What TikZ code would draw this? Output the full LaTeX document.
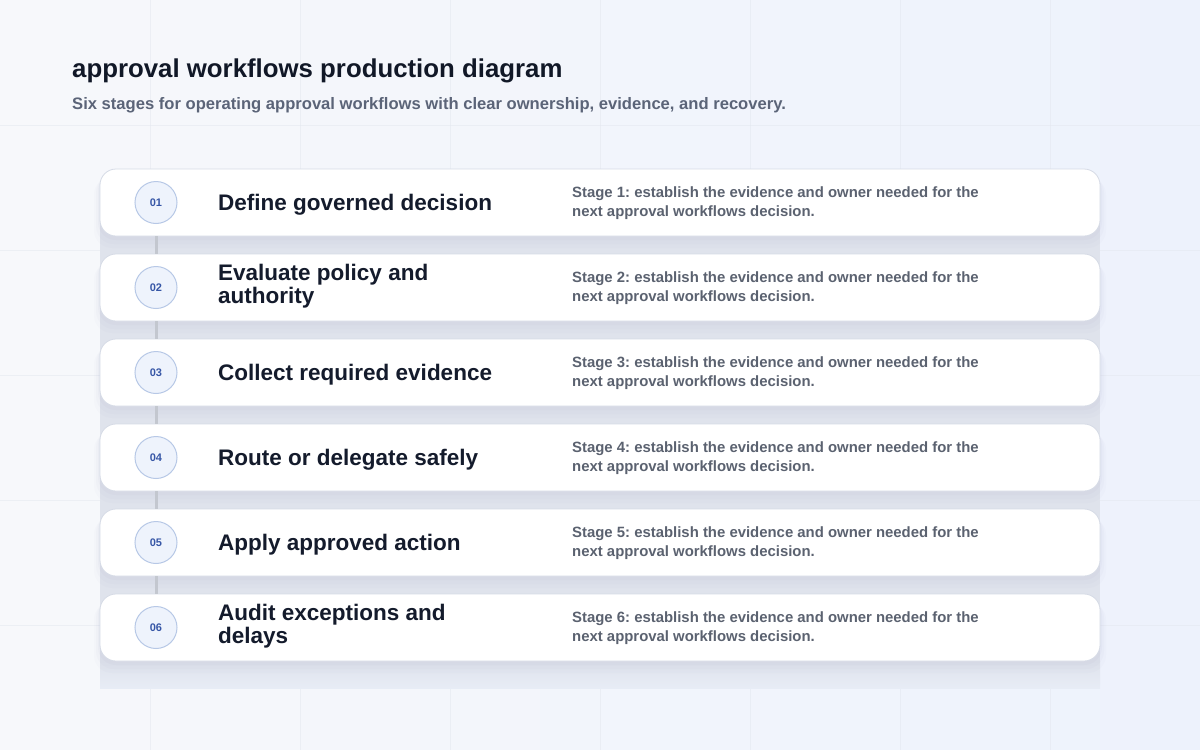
\documentclass[tikz,border=0pt]{standalone}
\usepackage{fontspec}
\setmainfont{Liberation Sans}
\frenchspacing
\usetikzlibrary{calc}
\definecolor{bgA}{HTML}{F7F8FB}
\definecolor{bgB}{HTML}{EDF2FC}
\definecolor{gridc}{HTML}{E3E7EF}
\definecolor{panel}{HTML}{DFE3EC}
\definecolor{titlec}{HTML}{111827}
\definecolor{subc}{HTML}{5B6478}
\definecolor{cardline}{HTML}{D6DBE6}
\definecolor{stagec}{HTML}{141B2C}
\definecolor{descc}{HTML}{5B6270}
\definecolor{circfill}{HTML}{EEF3FC}
\definecolor{circline}{HTML}{B7C8E6}
\definecolor{numc}{HTML}{3656A6}
\definecolor{linkc}{HTML}{C3C7CF}
\tikzset{
  card/.style={draw=cardline, line width=0.8pt, fill=white, rounded corners=16pt},
  badge/.style={circle, draw=circline, line width=1pt, fill=circfill, minimum size=42pt, inner sep=0pt,
    font=\fontsize{11}{12}\selectfont\bfseries, text=numc},
  stagetitle/.style={anchor=west, align=left, inner sep=0pt, text=stagec,
    font=\fontsize{22.5}{23}\selectfont\bfseries},
  stagedesc/.style={anchor=west, align=left, inner sep=0pt, text=descc,
    font=\fontsize{14.9}{19}\selectfont\bfseries},
  link/.style={draw=linkc, line width=3pt}
}
\begin{document}
\begin{tikzpicture}[x=1pt,y=-1pt]
\useasboundingbox (0,0) rectangle (1200,750);
\shade[left color=bgA, right color=bgB] (0,0) rectangle (1200,750);
% grid
\foreach \gx in {150,300,...,1050} \draw[gridc, opacity=0.5, line width=0.8pt] (\gx,0) -- (\gx,750);
\foreach \gy in {125,250,...,625} \draw[gridc, opacity=0.5, line width=0.8pt] (0,\gy) -- (1200,\gy);
% panel
\fill[panel] (100,200) rectangle (1100,661);
\shade[top color=panel, bottom color=bgB!60!panel] (100,661) rectangle (1100,688);
% title
\node[anchor=base west, inner sep=0pt, text=titlec, font=\fontsize{25.8}{28}\selectfont\bfseries] (title) at (72,77) {approval workflows production diagram};
\node[anchor=base west, inner sep=0pt, text=subc, font=\fontsize{16.6}{18}\selectfont\bfseries] (subtitle) at (72,109.5) {Six stages for operating approval workflows with clear ownership, evidence, and recovery.};
% cards
\foreach \i/\t/\d/\sh in {1/{Define governed decision}/1/2.5, 2/{Evaluate policy and\\authority}/2/-1, 3/{Collect required evidence}/3/2.5, 4/{Route or delegate safely}/4/2.5, 5/{Apply approved action}/5/2.5, 6/{Audit exceptions and\\delays}/6/-1}{
  \pgfmathsetmacro{\top}{169+85*(\i-1)}
  \pgfmathsetmacro{\cy}{\top+33.5}
  \foreach \k/\o in {1/0.05,2/0.04,3/0.03}{
    \fill[black!60!blue!40, opacity=\o, rounded corners=18pt] (100-2*\k,\top+2+2*\k) rectangle (1100+2*\k,\top+67+4*\k);
  }
  \draw[card] (100,\top) rectangle (1100,\top+67);
  \node[badge] (b\i) at (156,\cy) {0\i};
  \node[stagetitle] (t\i) at (218,\cy+\sh) {\t};
  \node[stagedesc] (d\i) at (572,\cy+1) {Stage \d: establish the evidence and owner needed for the\\next approval workflows decision.};
  \coordinate (top\i) at (156,\top);
  \coordinate (bot\i) at (156,\top+67);
}
\foreach \i/\j in {1/2,2/3,3/4,4/5,5/6}{
  \draw[link] (bot\i) -- (top\j);
}
\end{tikzpicture}
\end{document}
